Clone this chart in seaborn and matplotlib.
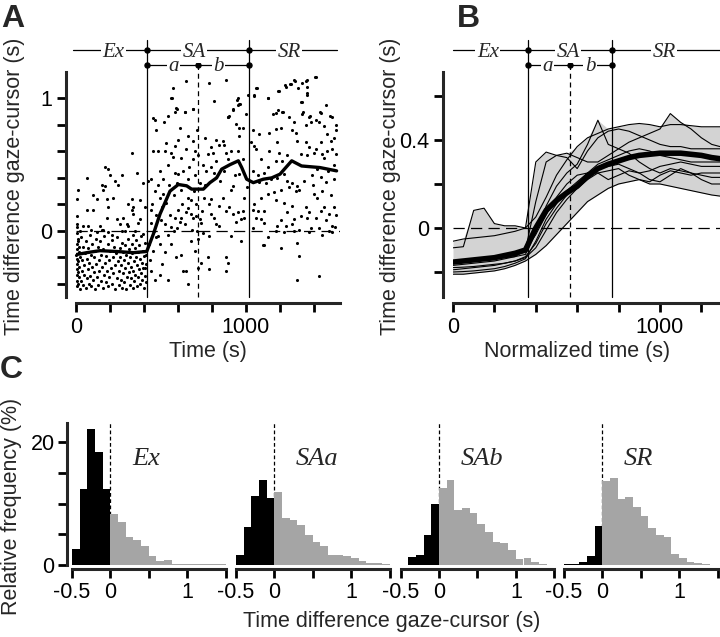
import numpy as np
import pandas as pd
import matplotlib.pyplot as plt
import seaborn as sns

# ---------------- panel A: one session, gaze-cursor lag vs time
ex_points = [
    (3, -0.42), (4, -0.38), (6, -0.33), (3, -0.29), (8, -0.25), (5, -0.21), (2, -0.18), (7, -0.14),
    (4, -0.1), (9, -0.06), (3, -0.02), (6, 0.03), (12, -0.4), (14, -0.31), (11, -0.23), (15, -0.16),
    (13, -0.08), (18, -0.35), (20, -0.27), (17, -0.12), (22, -0.44), (25, -0.2), (27, -0.05),
    (32, -0.38), (35, -0.3), (38, -0.22), (41, -0.41), (44, -0.12), (47, -0.33), (50, -0.26),
    (53, -0.17), (56, -0.43), (59, -0.08), (62, -0.36), (65, -0.21), (68, -0.29), (72, -0.13),
    (75, -0.4), (78, -0.24), (81, -0.03), (84, -0.34), (88, -0.18), (91, -0.42), (94, -0.27),
    (97, -0.1), (100, -0.37), (104, -0.2), (107, -0.31), (110, -0.15), (113, -0.44), (117, -0.06),
    (120, -0.25), (124, -0.35), (127, -0.12), (131, -0.41), (134, -0.22), (138, -0.3), (142, -0.08),
    (145, -0.38), (149, -0.18), (152, -0.27), (156, -0.43), (160, -0.14), (163, -0.33), (167, -0.04),
    (171, -0.24), (174, -0.39), (178, -0.19), (182, -0.3), (186, -0.1), (189, -0.42), (193, -0.22),
    (197, -0.35), (201, -0.15), (205, -0.28), (209, -0.07), (213, -0.4), (216, -0.2), (220, -0.32),
    (224, -0.12), (228, -0.44), (232, -0.26), (236, -0.17), (240, -0.36), (244, -0.05), (248, -0.23),
    (252, -0.41), (255, -0.3), (258, -0.13), (261, -0.2), (264, -0.37), (267, -0.26), (270, -0.09),
    (273, -0.43), (276, -0.16), (279, -0.32), (282, -0.22), (285, -0.39), (288, -0.11), (291, -0.28),
    (294, -0.18), (297, -0.44), (300, -0.35), (303, -0.24), (306, -0.06), (309, -0.31), (312, -0.14),
    (315, -0.41), (318, -0.2), (321, -0.27), (324, -0.36), (327, -0.1), (330, -0.17), (333, -0.43),
    (336, -0.3), (339, -0.23), (342, -0.38), (345, -0.13), (348, -0.33), (351, -0.2), (354, -0.07),
    (357, -0.42), (360, -0.26), (363, -0.16), (366, -0.35), (369, -0.29), (372, -0.11), (375, -0.4),
    (378, -0.21), (381, -0.32), (384, -0.04), (387, -0.24), (390, -0.37), (393, -0.15), (396, -0.28),
    (399, -0.43), (402, -0.19), (405, -0.09), (408, -0.34), (411, -0.25), (414, -0.39),
    (327, 0.59), (171, 0.48), (190, 0.47), (63, 0.40), (200, 0.42), (269, 0.42), (357, 0.44),
    (151, 0.35), (171, 0.34), (229, 0.38), (249, 0.35), (14, 0.31), (102, 0.27), (161, 0.31),
    (220, 0.25), (327, 0.24), (4, 0.24), (122, 0.24), (180, 0.24), (308, 0.2), (63, 0.16),
    (102, 0.16), (190, 0.18), (327, 0.16), (4, 0.11), (180, 0.10), (278, 0.10), (335, 0.13),
    (5, 0.05), (73, 0.04), (141, 0.04), (259, 0.05), (308, 0.04), (367, 0.06), (24, 0.0),
    (122, -0.01), (161, 0.01), (210, -0.03), (288, 0.0), (337, -0.03), (396, 0.36), (376, 0.23),
    (337, 0.18), (239, 0.09), (300, 0.05), (376, 0.09), (43, 0.04), (86, 0.01), (151, 0.01),
    (190, -0.01), (269, -0.005), (347, 0.0), (396, -0.025),
]
sa_a_points = [
    (649, 1.13), (571, 1.08), (561, 1.0), (590, 0.93), (580, 0.9), (541, 0.87), (639, 0.9), (688, 0.92),
    (463, 0.84), (472, 0.76), (714, 0.76), (659, 0.72), (600, 0.69), (453, 0.60), (482, 0.60),
    (522, 0.60), (561, 0.59), (571, 0.56), (698, 0.60), (718, 0.57), (688, 0.54), (492, 0.45),
    (580, 0.44), (600, 0.43), (443, 0.39), (424, 0.38), (512, 0.39), (659, 0.39), (727, 0.36),
    (463, 0.30), (512, 0.28), (492, 0.25), (659, 0.25), (678, 0.23), (404, 0.18), (443, 0.16),
    (600, 0.16), (649, 0.14), (678, 0.13), (708, 0.11), (727, 0.09), (737, 0.06), (688, 0.10),
    (610, 0.07), (561, 0.03), (522, 0.05), (443, 0.06), (482, -0.04), (541, -0.03), (596, 0.02),
    (678, -0.08), (718, -0.06), (492, -0.1), (453, -0.15), (522, -0.16), (414, -0.18), (433, -0.22),
    (404, -0.28), (443, -0.30), (492, -0.33), (463, -0.37), (541, -0.37), (620, -0.18), (629, -0.30),
    (649, -0.30), (718, -0.28), (737, -0.24), (592, 0.92), (690, 0.92), (641, 0.9), (455, 0.85),
    (566, 1.0), (530, 0.21), (555, 0.12), (575, 0.27), (585, 0.1), (615, 0.31), (625, 0.2),
    (640, 0.05), (660, 0.17), (695, 0.3), (705, 0.2), (545, 0.35), (505, 0.18), (470, 0.12),
    (630, 0.45), (665, 0.48), (615, 0.55), (540, 0.5), (700, 0.42), (580, 0.64), (610, 0.78),
    (520, 0.82), (690, 0.68), (450, 0.2), (470, -0.05), (505, -0.25), (560, -0.1), (590, -0.2),
    (700, -0.15), (660, -0.4), (430, -0.1), (460, 0.0), (500, 0.08), (620, 0.1), (575, 0.0),
    (680, 0.01), (710, 0.0), (480, 0.35), (530, 0.66), (595, 0.36), (650, 0.62),
]
sa_b_points = [
    (784, 1.12), (882, 1.14), (814, 0.98), (951, 1.0), (961, 0.96), (922, 0.92), (1000, 0.88),
    (902, 0.87), (892, 0.86), (941, 0.81), (961, 0.78), (980, 0.78), (961, 0.72), (794, 0.63),
    (824, 0.69), (863, 0.68), (873, 0.65), (843, 0.65), (912, 0.60), (951, 0.60), (882, 0.59),
    (804, 0.59), (775, 0.58), (824, 0.53), (892, 0.54), (765, 0.45), (794, 0.48), (814, 0.44),
    (980, 0.54), (961, 0.43), (922, 0.34), (912, 0.31), (863, 0.25), (794, 0.24), (784, 0.20),
    (843, 0.19), (794, 0.13), (814, 0.10), (882, 0.15), (902, 0.18), (922, 0.13), (951, 0.14),
    (980, 0.15), (941, 0.07), (971, 0.09), (990, 0.10), (824, 0.05), (843, 0.04), (912, -0.04),
    (971, -0.08), (784, -0.04), (775, -0.20), (882, -0.20), (892, -0.24), (784, -0.29), (882, -0.30),
    (945, 0.99), (965, 0.96), (1013, 1.03), (896, 0.86), (925, 0.91), (955, 0.95), (745, 0.5),
    (755, 0.25), (740, 0.15), (760, 0.7), (750, -0.02), (850, 0.38), (870, 0.45), (935, 0.42),
    (1005, 0.33), (990, 0.25), (760, 0.35),
]
sr_points = [
    (1059, 1.08), (1049, 1.02), (1127, 1.0), (1157, 0.88), (1039, 0.76), (1078, 0.73), (1137, 0.74),
    (1029, 0.67), (1049, 0.64), (1059, 0.62), (1137, 0.60), (1088, 0.54), (1127, 0.48), (1039, 0.45),
    (1108, 0.44), (1068, 0.42), (1147, 0.39), (1078, 0.37), (1117, 0.36), (1088, 0.25), (1127, 0.28),
    (1167, 0.29), (1049, 0.20), (1039, 0.16), (1068, 0.15), (1108, 0.15), (1059, 0.10), (1088, 0.09),
    (1108, 0.06), (1039, 0.02), (1127, -0.05), (1108, -0.11),
    (1410, 1.16), (1351, 1.13), (1282, 1.14), (1233, 1.09), (1262, 1.11), (1194, 1.06), (1361, 1.09),
    (1322, 0.97), (1361, 1.03), (1175, 0.89), (1214, 0.90), (1253, 0.86), (1282, 0.82), (1331, 0.88),
    (1370, 0.86), (1410, 0.84), (1439, 0.89), (1508, 0.86), (1175, 0.77), (1204, 0.78), (1272, 0.76),
    (1292, 0.74), (1351, 0.80), (1380, 0.82), (1429, 0.82), (1459, 0.79), (1478, 0.73), (1527, 0.76),
    (1184, 0.67), (1302, 0.68), (1351, 0.67), (1370, 0.63), (1410, 0.62), (1439, 0.67), (1478, 0.60),
    (1508, 0.62), (1194, 0.59), (1243, 0.57), (1322, 0.58), (1361, 0.57), (1400, 0.59), (1449, 0.58),
    (1527, 0.58), (1175, 0.53), (1214, 0.53), (1184, 0.40), (1224, 0.43), (1243, 0.38), (1272, 0.36),
    (1302, 0.34), (1341, 0.38), (1390, 0.42), (1439, 0.41), (1468, 0.37), (1517, 0.39), (1204, 0.31),
    (1253, 0.33), (1292, 0.30), (1311, 0.31), (1400, 0.28), (1419, 0.25), (1175, 0.23), (1224, 0.21),
    (1272, 0.19), (1351, 0.18), (1459, 0.18), (1517, 0.18), (1243, 0.14), (1322, 0.11), (1370, 0.14),
    (1439, 0.15), (1488, 0.13), (1204, 0.08), (1282, 0.09), (1361, 0.10), (1410, 0.10), (1468, 0.08),
    (1184, 0.04), (1233, 0.04), (1272, 0.05), (1311, 0.01), (1380, 0.02), (1429, 0.02), (1508, 0.04),
    (1175, 0.0), (1224, -0.01), (1282, 0.0), (1370, -0.01), (1449, -0.03), (1508, -0.01),
    (1204, -0.13), (1302, -0.09), (1311, -0.19), (1302, -0.37), (1429, -0.34), (1102, -0.11),
    (1131, 1.0), (1190, 1.06), (1229, 1.1), (1257, 1.11), (1288, 1.13), (1327, 1.12), (1357, 1.14),
    (1406, 1.16), (1308, 1.08), (1357, 1.04), (1190, 0.91), (1219, 0.9), (1327, 0.97), (1337, 0.9),
    (1376, 0.87), (1435, 0.9), (1494, 0.87), (1063, 1.08), (1045, 1.03),
    (1450, 0.3), (1480, 0.45), (1500, 0.27), (1520, 0.5), (1530, 0.12), (1490, 0.0), (1525, 0.03),
    (1460, 0.55), (1420, 0.47), (1395, 0.35), (1515, 0.7), (1530, 0.8), (1470, 0.95), (1500, 0.68),
]
avg_t = [0, 63, 141, 239, 337, 416, 455, 494, 553, 602, 651, 680, 749, 788, 827, 857, 906, 955,
         975, 1004, 1043, 1102, 1151, 1200, 1269, 1288, 1327, 1435, 1533]
avg_v = [-0.18, -0.165, -0.15, -0.156, -0.165, -0.156, -0.025, 0.126, 0.30, 0.35, 0.34, 0.315, 0.315,
         0.364, 0.40, 0.466, 0.50, 0.529, 0.478, 0.39, 0.364, 0.39, 0.40, 0.428, 0.529, 0.516, 0.49,
         0.478, 0.453]
phases_A = [416, 718, 1018]

# ---------------- panel B: all subjects, normalized time
norm_t = [0, 50, 100, 150, 200, 250, 300, 350, 400, 450, 500, 550, 600, 650, 700, 750, 800, 850,
          900, 950, 1000, 1050, 1100, 1150, 1200, 1250, 1290]
subj_curves = {
    's1': [-0.06, -0.05, -0.045, -0.04, -0.035, -0.025, -0.015, 0.0, 0.05, 0.14, 0.24, 0.31, 0.37, 0.41,
           0.43, 0.45, 0.46, 0.47, 0.475, 0.47, 0.46, 0.47, 0.47, 0.465, 0.46, 0.46, 0.46],
    's2': [-0.09, -0.085, 0.08, 0.09, 0.02, 0.01, 0.01, 0.0, 0.30, 0.345, 0.33, 0.34, 0.32, 0.30, 0.30,
           0.33, 0.36, 0.39, 0.41, 0.43, 0.45, 0.52, 0.48, 0.45, 0.41, 0.38, 0.37],
    's3': [-0.16, -0.155, -0.15, -0.145, -0.14, -0.135, -0.13, -0.12, -0.02, 0.1, 0.19, 0.25, 0.29, 0.38,
           0.49, 0.38, 0.36, 0.34, 0.3, 0.27, 0.25, 0.27, 0.26, 0.25, 0.24, 0.23, 0.23],
    's4': [-0.17, -0.165, -0.16, -0.155, -0.15, -0.14, -0.13, -0.1, 0.12, 0.3, 0.33, 0.32, 0.27, 0.35,
           0.41, 0.44, 0.45, 0.44, 0.42, 0.4, 0.38, 0.37, 0.37, 0.36, 0.36, 0.36, 0.36],
    's5': [-0.21, -0.21, -0.205, -0.2, -0.195, -0.185, -0.17, -0.15, -0.12, -0.08, -0.03, 0.02, 0.07,
           0.12, 0.15, 0.18, 0.2, 0.21, 0.22, 0.2, 0.2, 0.19, 0.18, 0.17, 0.16, 0.15, 0.145],
    's6': [-0.19, -0.185, -0.18, -0.175, -0.17, -0.16, -0.15, -0.13, -0.07, 0.02, 0.09, 0.15, 0.2, 0.25,
           0.27, 0.28, 0.29, 0.27, 0.25, 0.26, 0.28, 0.29, 0.3, 0.29, 0.28, 0.28, 0.28],
    's7': [-0.18, -0.178, -0.175, -0.17, -0.165, -0.16, -0.15, -0.135, -0.09, -0.01, 0.07, 0.13, 0.18,
           0.22, 0.25, 0.26, 0.27, 0.24, 0.22, 0.21, 0.24, 0.26, 0.25, 0.24, 0.25, 0.25, 0.25],
    's8': [-0.2, -0.198, -0.195, -0.19, -0.185, -0.175, -0.16, -0.14, -0.06, 0.04, 0.11, 0.17, 0.21, 0.25,
           0.29, 0.31, 0.33, 0.35, 0.36, 0.35, 0.33, 0.32, 0.31, 0.3, 0.3, 0.3, 0.3],
    's9': [-0.15, -0.148, -0.145, -0.14, -0.135, -0.13, -0.12, -0.1, -0.03, 0.06, 0.14, 0.2, 0.24, 0.25,
           0.25, 0.22, 0.24, 0.26, 0.25, 0.22, 0.21, 0.24, 0.27, 0.25, 0.22, 0.2, 0.2],
}
mean_v = [-0.155, -0.15, -0.145, -0.14, -0.135, -0.125, -0.115, -0.1, 0.0, 0.08, 0.125, 0.16, 0.19,
          0.235, 0.27, 0.29, 0.305, 0.32, 0.33, 0.335, 0.34, 0.34, 0.34, 0.335, 0.33, 0.32, 0.315]
phases_B = [361, 565, 768]

# ---------------- panel C: lag histograms per phase (%)
bin_centers = [-0.45, -0.35, -0.25, -0.15, -0.05, 0.05, 0.15, 0.25, 0.35, 0.45,
               0.55, 0.65, 0.75, 0.85, 0.95, 1.05, 1.15, 1.25, 1.35, 1.45]
hist_names = ['Ex', 'SAa', 'SAb', 'SR']
hist_freq = {
    'Ex':  [2.6, 12.3, 22.1, 18.4, 12.3, 8.3, 7.0, 4.6, 4.1, 3.1, 1.5, 0.65, 0.8, 0.2, 0.2, 0.2, 0.2, 0.2, 0.2, 0.1],
    'SAa': [1.6, 6.2, 11.3, 13.9, 10.9, 11.8, 7.6, 7.4, 6.5, 4.9, 3.8, 3.1, 1.6, 1.7, 1.5, 1.1, 0.7, 0.3, 0.3, 0.1],
    'SAb': [0.0, 1.3, 1.6, 4.9, 9.9, 12.5, 13.8, 8.9, 9.3, 8.5, 6.6, 5.3, 3.7, 3.5, 2.4, 1.0, 1.1, 0.5, 0.2, 0.0],
    'SR':  [0.1, 0.2, 0.5, 1.5, 6.3, 13.6, 14.2, 10.7, 11.0, 9.4, 8.0, 6.1, 4.8, 4.6, 1.8, 1.2, 0.5, 0.3, 0.1, 0.0],
}

# ---------------- style
sns.set_style("ticks")
SANS = ['Liberation Sans Narrow', 'Liberation Sans', 'DejaVu Sans']
SERIF = ['Liberation Serif', 'DejaVu Serif']
plt.rcParams['font.family'] = SANS
plt.rcParams['axes.linewidth'] = 2.2
FS_TICK = 15.5
FS_LAB = 15.5
GRAY = '#a5a5a5'

W, H = 720, 637
fig = plt.figure(figsize=(W / 100, H / 100), dpi=100)


def add_ax(left, top, right, bottom):
    return fig.add_axes([left / W, 1 - bottom / H, (right - left) / W, (bottom - top) / H])


def style(ax, left_px=10, bottom_px=6, pad=3.5):
    ax.patch.set_alpha(0)
    for s in ['top', 'right']:
        ax.spines[s].set_visible(False)
    ax.spines['left'].set_position(('outward', left_px * 0.72))
    ax.spines['bottom'].set_position(('outward', bottom_px * 0.72))
    ax.tick_params(direction='out', length=6.5, width=2, labelsize=FS_TICK, pad=pad, colors='black')
    ax.set_xlabel('')
    ax.set_ylabel('')


def bracket(ax, phases, x0, x1, y1, y2, ytop, base1, base2, lab_x):
    p0, pm, p2 = phases
    kw = dict(color='black', lw=0.9, clip_on=False)
    ax.plot([x0, x1], [y1, y1], **kw)
    ax.plot([p0, p2], [y2, y2], **kw)
    ybot = ax.get_ylim()[0]
    ax.plot([p0, p0], [ybot, ytop], **kw)
    ax.plot([p2, p2], [ybot, ytop], **kw)
    ax.plot([pm, pm], [ybot, y2], color='black', lw=0.9, ls=(0, (4, 3)), clip_on=False)
    ax.plot([p0, p2, p0, pm, p2], [y1, y1, y2, y2, y2], 'o', ms=3.6, color='black', clip_on=False)
    tkw = dict(ha='center', va='baseline', fontsize=15, family=SERIF, style='italic',
               bbox=dict(fc='white', ec='none', pad=1.0), clip_on=False)
    for lab, x in zip(['Ex', 'SA', 'SR'], lab_x[:3]):
        ax.text(x, base1, lab, **tkw)
    for lab, x in zip(['a', 'b'], lab_x[3:]):
        ax.text(x, base2, lab, **tkw)


# ---------------- panel A
axA = add_ax(76, 72, 340, 297)
pts = pd.DataFrame(ex_points + sa_a_points + sa_b_points + sr_points, columns=['t', 'v'])
axA.set_xlim(0, 1553)
axA.set_ylim(-0.5, 1.2)
axA.plot([0, 1553], [0, 0], color='black', lw=0.9, ls=(0, (9, 5)), zorder=1)
sns.scatterplot(data=pts, x='t', y='v', s=5, color='black', linewidth=0, ax=axA, clip_on=False, zorder=3)
sns.lineplot(x=avg_t, y=avg_v, color='black', lw=2.4, estimator=None, ax=axA, zorder=4)
sA = 132.35
bracket(axA, phases_A, -18, 1535, 1.2 + 22 / sA, 1.2 + 7 / sA, 1.2 + 32 / sA,
        1.2 + 22 / sA - 7 / sA, 1.2 + 7 / sA - 6 / sA, [219, 696, 1253, 572, 837])
style(axA)
axA.set_xticks(range(0, 1401, 200))
axA.set_xticklabels(['0', '', '', '', '', '1000', '', ''])
axA.set_yticks([-0.4, -0.2, 0, 0.2, 0.4, 0.6, 0.8, 1.0])
axA.set_yticklabels(['', '', '0', '', '', '', '', '1'])

# ---------------- panel B
axB = add_ax(453, 72, 720, 297)
axB.set_xlim(0, 1290)
axB.set_ylim(-0.3136, 0.709)
cur = pd.DataFrame([(k, t, v) for k, vals in subj_curves.items() for t, v in zip(norm_t, vals)],
                   columns=['subject', 't', 'v'])
env = cur.groupby('t')['v'].agg(['min', 'max']).reset_index()
axB.fill_between(env['t'], env['min'], env['max'], color='#d3d3d3', lw=0, zorder=1)
axB.plot([0, 1290], [0, 0], color='black', lw=0.9, ls=(0, (9, 5)), zorder=2)
sns.lineplot(data=cur, x='t', y='v', units='subject', estimator=None, color='black', lw=0.8,
             ax=axB, zorder=3)
sns.lineplot(x=norm_t, y=mean_v, color='black', lw=4, estimator=None, ax=axB, zorder=4)
sB = 220
bracket(axB, phases_B, 0, 1290, 0.709 + 22 / sB, 0.709 + 7 / sB, 0.709 + 32 / sB,
        0.709 + 22 / sB - 7 / sB, 0.709 + 7 / sB - 6 / sB, [168, 557, 1019, 457, 662])
style(axB)
axB.set_xticks(range(0, 1201, 200))
axB.set_xticklabels(['0', '', '', '', '', '1000', ''])
axB.set_yticks([-0.2, 0, 0.2, 0.4, 0.6])
axB.set_yticklabels(['', '0', '', '0.4', ''])

# ---------------- panel C
edges = [round(-0.5 + 0.1 * k, 2) for k in range(21)]
lefts = [72, 236, 400.7, 564]
for i, (name, left) in enumerate(zip(hist_names, lefts)):
    ax = add_ax(left, 423, left + 153.5, 565)
    dfh = pd.DataFrame({'x': bin_centers, 'freq': hist_freq[name]})
    ax.plot([0, 0], [0, 23.1], color='black', lw=0.9, ls=(0, (3, 2)), zorder=0.5)
    neg = dfh[dfh['x'] < 0]
    pos = dfh[dfh['x'] > 0]
    sns.histplot(x=neg['x'].tolist(), weights=neg['freq'].tolist(), bins=edges, color='black',
                 alpha=1, linewidth=0, ax=ax)
    sns.histplot(x=pos['x'].tolist(), weights=pos['freq'].tolist(), bins=edges, color=GRAY,
                 alpha=1, linewidth=0, ax=ax)
    ax.set_xlim(-0.5, 1.5)
    ax.set_ylim(0, 23.1)
    style(ax, left_px=5, bottom_px=4, pad=2.5)
    ax.set_xticks([-0.5, 0, 0.5, 1, 1.5])
    ax.set_xticklabels(['-0.5', '0', '', '1', ''])
    ax.text(0.28, 16.3, name, fontsize=19, family=SERIF, style='italic', ha='left', va='baseline')
    if i == 0:
        ax.set_yticks([0, 5, 10, 15, 20])
        ax.set_yticklabels(['0', '', '', '', '20'])
    else:
        ax.spines['left'].set_visible(False)
        ax.set_yticks([])

# ---------------- labels
def ftext(x, y, s, **kw):
    fig.text(x / W, 1 - y / H, s, **kw)


lab = dict(fontsize=FS_LAB, ha='center', va='center')
ftext(15, 186, 'Time difference gaze-cursor (s)', rotation=90, **lab)
ftext(391, 186, 'Time difference gaze-cursor (s)', rotation=90, **lab)
ftext(208, 352, 'Time (s)', **lab)
ftext(577, 352, 'Normalized time (s)', **lab)
ftext(12, 506, 'Relative frequency (%)', rotation=90, **lab)
ftext(392, 621, 'Time difference gaze-cursor (s)', **lab)
pan = dict(fontsize=23, fontweight='bold', ha='left', va='baseline',
           family=['Liberation Sans', 'DejaVu Sans'])
ftext(1, 27, 'A', **pan)
ftext(457, 27, 'B', **pan)
ftext(0, 378, 'C', **pan)

fig.savefig('out.png', dpi=100)
